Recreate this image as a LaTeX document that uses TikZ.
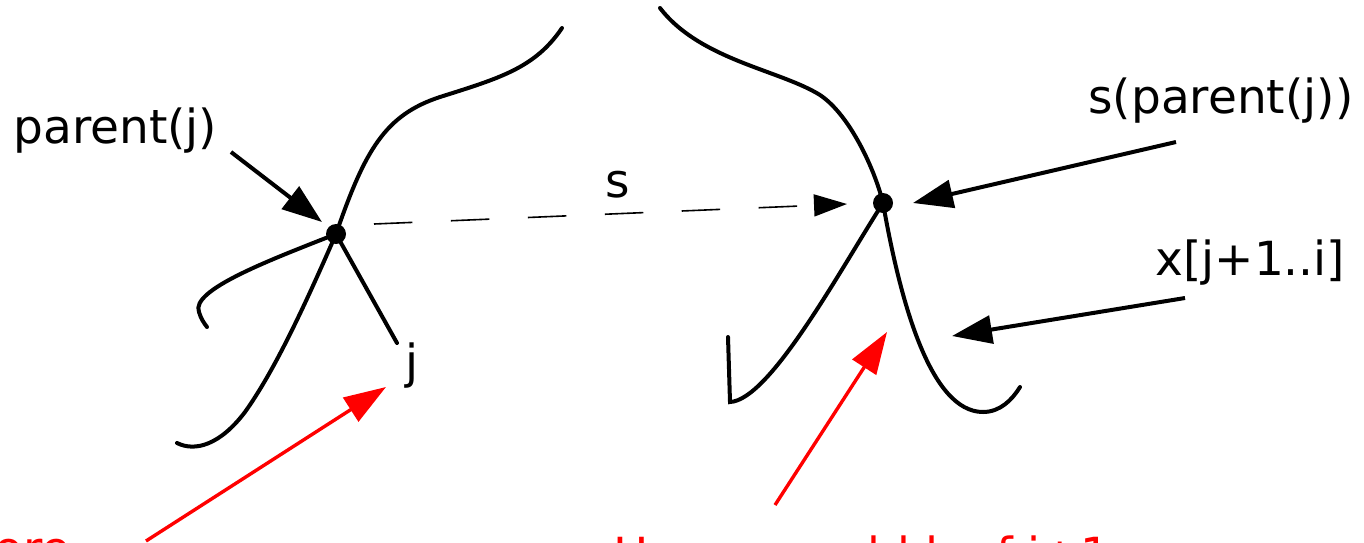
\documentclass[tikz,border=0pt]{standalone}
\usepackage{fontspec}
\setmainfont{DejaVu Sans}
\usetikzlibrary{arrows.meta}
\begin{document}
\begin{tikzpicture}[x=0.5pt,y=-0.5pt,
  curve/.style={line width=2pt, line cap=round},
  ptr/.style={line width=2pt, -{Triangle[length=20pt,width=14pt]}},
  redptr/.style={draw=red, line width=1.7pt, -{Triangle[length=21pt,width=14pt]}},
  dashptr/.style={line width=0.8pt, dash pattern=on 19.25pt off 19.25pt, -{Triangle[length=16.5pt,width=11pt]}},
  lbl/.style={font=\fontsize{23.5}{28}\selectfont, inner sep=0pt},
  redlbl/.style={lbl, text=red},
  dotnode/.style={circle, fill=black, minimum size=10pt, inner sep=0pt}]
\useasboundingbox (0,0) rectangle (1364,542);

% nodes
\node[dotnode] (p) at (336,234) {};
\node[dotnode] (sp) at (883,203) {};
\node[lbl, anchor=base west] (lp) at (13,143) {parent(j)};
\node[lbl, anchor=base west] (lsp) at (1088,113) {s(parent(j))};
\node[lbl, anchor=base west] (lx) at (1155,275) {x[j+1..i]};
\node[lbl, anchor=base west] (ls) at (605,197) {s};
\node[lbl, anchor=base west] (lj) at (405,378) {j};
\node[redlbl, anchor=base east] (rl) at (71,565) {before};
\node[redlbl, anchor=base west] (rr) at (613,571) {Here we add leaf j+1};

% coordinates
\coordinate (ltop) at (562,28);
\coordinate (lhook) at (207,327);
\coordinate (llow) at (177,443);
\coordinate (jend) at (397,343);
\coordinate (rtop) at (660,8);
\coordinate (rvert) at (728,337);
\coordinate (rright) at (1020,387);
\coordinate (a1s) at (231,152);
\coordinate (a1e) at (322,222);
\coordinate (a2s) at (1176,142);
\coordinate (a2e) at (913,203);
\coordinate (a3s) at (1185,298);
\coordinate (a3e) at (952,336);
\coordinate (r1s) at (146,541);
\coordinate (r1e) at (386,387);
\coordinate (r2s) at (775,505);
\coordinate (r2e) at (887,332);
\coordinate (ds) at (374,224);
\coordinate (de) at (847,204);

% left tree
\draw[curve] (p.center) .. controls (365,150) and (385,115) .. (440,97)
  .. controls (500,78) and (535,68) .. (ltop);
\draw[curve] (p.center) .. controls (270,260) and (190,290) .. (199,312)
  .. controls (201,319) and (204,323) .. (lhook);
\draw[curve] (p.center) .. controls (305,305) and (275,370) .. (245,412)
  .. controls (220,445) and (195,452) .. (llow);
\draw[curve] (p.center) -- (jend);

% right tree
\draw[curve] (rtop) .. controls (700,60) and (780,70) .. (820,95)
  .. controls (850,115) and (875,170) .. (sp.center);
\draw[curve] (sp.center) .. controls (840,270) and (770,400) .. (730,402) -- (rvert);
\draw[curve] (sp.center) .. controls (900,300) and (930,412) .. (983,412)
  .. controls (1000,412) and (1012,400) .. (rright);

% suffix link
\draw[dashptr] (ds) -- (de);

% pointers
\draw[ptr] (a1s) -- (a1e);
\draw[ptr] (a2s) -- (a2e);
\draw[ptr] (a3s) -- (a3e);
\draw[redptr] (r1s) -- (r1e);
\draw[redptr] (r2s) -- (r2e);
\end{tikzpicture}
\end{document}
